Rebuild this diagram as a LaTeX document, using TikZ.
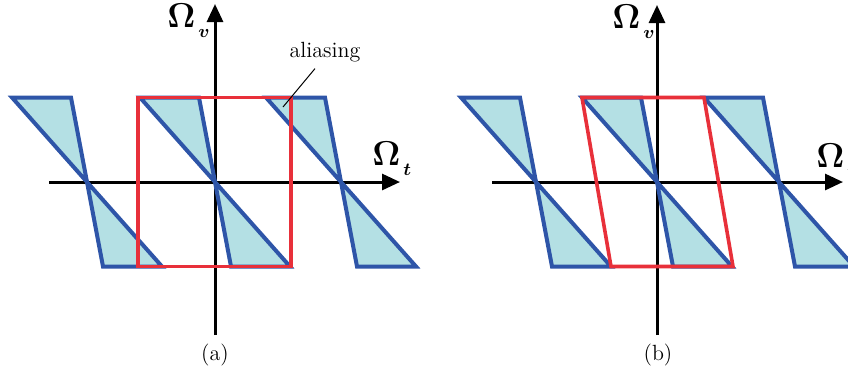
\documentclass[tikz,border=0pt]{standalone}
\usepackage{amsmath,bm}
\usepackage{xcolor}
\definecolor{specFill}{HTML}{B4E0E4}
\definecolor{specEdge}{HTML}{2E55A8}
\definecolor{sampleBox}{HTML}{E8303A}
\usetikzlibrary{arrows.meta}

\newcommand{\omsub}[1]{$\bm{\Omega}$\kern1.5pt\raisebox{-5pt}{\fontsize{9}{10}\selectfont$\bm{#1}$}}

\tikzset{
  spec/.style={fill=specFill, draw=specEdge, line width=2pt, line join=miter},
  window/.style={draw=sampleBox, line width=1.8pt},
  axis/.style={draw=black, line width=1.5pt, -{Triangle[length=9pt,width=8pt]}},
  axlabel/.style={anchor=base west, inner sep=0pt, font=\LARGE},
  caption/.style={font=\fontsize{11}{13}\selectfont},
}

\begin{document}
\begin{tikzpicture}[x=0.5pt, y=-0.5pt]
  \clip (0,0) rectangle (848,372);

  % panel (a)
  \coordinate (a-w) at (49,182);
  \coordinate (a-e) at (400,182);
  \coordinate (a-s) at (215,335);
  \coordinate (a-n) at (215,4);
  \draw[axis] (a-w) -- (a-e);
  \draw[axis] (a-s) -- (a-n);

  \filldraw[spec] (12,97.5) -- (71,97.5) -- (87,182) -- cycle;
  \filldraw[spec] (87,182) -- (103,266.5) -- (162,266.5) -- cycle;
  \filldraw[spec] (140,97.5) -- (199,97.5) -- (215,182) -- cycle;
  \filldraw[spec] (215,182) -- (231,266.5) -- (290,266.5) -- cycle;
  \filldraw[spec] (266,97.5) -- (325,97.5) -- (341,182) -- cycle;
  \filldraw[spec] (341,182) -- (357,266.5) -- (416,266.5) -- cycle;

  \draw[window] (138,97.5) rectangle (291,266.5);

  \node[axlabel] (a-omv) at (167,27) {\omsub{v}};
  \node[axlabel] (a-omt) at (372,165) {\omsub{t}};

  \node[caption, anchor=base] (alias) at (325,57) {aliasing};
  \coordinate (aliastip) at (283,107);
  \draw[line width=0.5pt] ([xshift=-5pt]alias.south) -- (aliastip);

  \node[caption] (a-cap) at (215,355) {(a)};

  % panel (b)
  \coordinate (b-w) at (492,182);
  \coordinate (b-e) at (843,182);
  \coordinate (b-s) at (657,335);
  \coordinate (b-n) at (657,5);
  \draw[axis] (b-w) -- (b-e);
  \draw[axis] (b-s) -- (b-n);

  \filldraw[spec] (461,97.5) -- (520,97.5) -- (536,182) -- cycle;
  \filldraw[spec] (536,182) -- (552,266.5) -- (611,266.5) -- cycle;
  \filldraw[spec] (582,97.5) -- (641,97.5) -- (657,182) -- cycle;
  \filldraw[spec] (657,182) -- (673,266.5) -- (732,266.5) -- cycle;
  \filldraw[spec] (704,97.5) -- (763,97.5) -- (779,182) -- cycle;
  \filldraw[spec] (779,182) -- (795,266.5) -- (854,266.5) -- cycle;

  \draw[window] (582,97.5) -- (704,97.5) -- (733,266.5) -- (611,266.5) -- cycle;

  \node[axlabel] (b-omv) at (612,28) {\omsub{v}};
  \node[axlabel] (b-omt) at (816,167) {\omsub{t}};

  \node[caption] (b-cap) at (658,355) {(b)};
\end{tikzpicture}
\end{document}
